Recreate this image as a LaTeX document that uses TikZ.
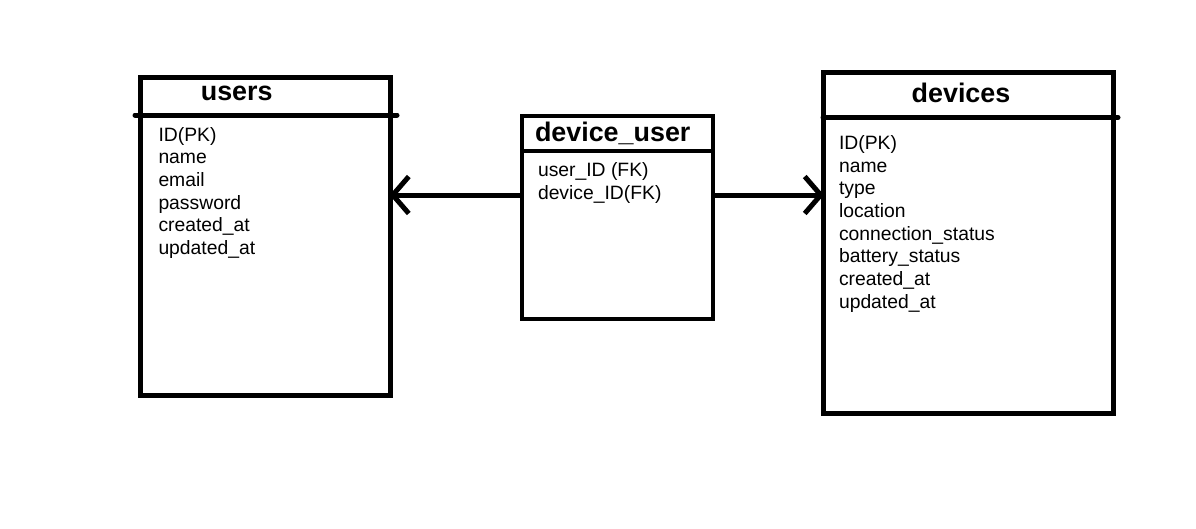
\documentclass[tikz,border=0pt]{standalone}
\usepackage{fontspec}
\setmainfont{Liberation Sans}
\usetikzlibrary{arrows.meta}

\begin{document}
\begin{tikzpicture}[x=0.02cm, y=-0.02cm, line width=0.1cm]
\tikzset{tbl/.style = {rectangle, draw, inner sep=0pt}}
\tikzset{title/.style = {inner sep=0pt, font=\fontsize{15.3}{18}\selectfont\bfseries}}
\tikzset{field/.style = {anchor=base west, inner sep=0pt, font=\fontsize{11}{13}\selectfont}}
\tikzset{edge/.style = {-{Straight Barb[length=0.32cm, width=0.74cm]}, shorten >=-0.07cm}}

\useasboundingbox (0,0) rectangle (1196,528);

% tables
\node[tbl, minimum width=5.01cm, minimum height=6.38cm] (users) at (265.25, 236.5) {};
\node[tbl, line width=0.088cm, minimum width=3.82cm, minimum height=4.06cm] (du) at (617.5, 217.5) {};
\node[tbl, minimum width=5.82cm, minimum height=6.83cm] (devices) at (968.5, 243.25) {};

\draw[line cap=round] (135, 115) -- (397, 115);
\draw[line width=0.088cm] (522, 151) -- (713, 151);
\draw[line cap=round] (823, 117.5) -- (1118, 117.5);

\node[title, anchor=base] (usersname) at (236.7, 100.7) {users};
\node[title, anchor=base west] (duname) at (532.5, 141) {device\_user};
\node[title, anchor=base] (devicesname) at (961, 102.7) {devices};

% columns
\foreach \f [count=\i] in {ID(PK), name, email, password, created\_at, updated\_at}
   {\node[field] (u\i) at (156, 118.3+22.7*\i) {\f};}

\foreach \f [count=\i] in {user\_ID (FK), device\_ID(FK)}
   {\node[field] (du\i) at (535.5, 153+23*\i) {\f};}

\foreach \f [count=\i] in {ID(PK), name, type, location, connection\_status, battery\_status, created\_at, updated\_at}
   {\node[field] (d\i) at (836.5, 126.6+22.7*\i) {\f};}

% links
\coordinate (lnk) at (0, 195);
\draw[edge] (du.west |- lnk) -- (users.east |- lnk);
\draw[edge] (du.east |- lnk) -- (devices.west |- lnk);

\end{tikzpicture}
\end{document}
